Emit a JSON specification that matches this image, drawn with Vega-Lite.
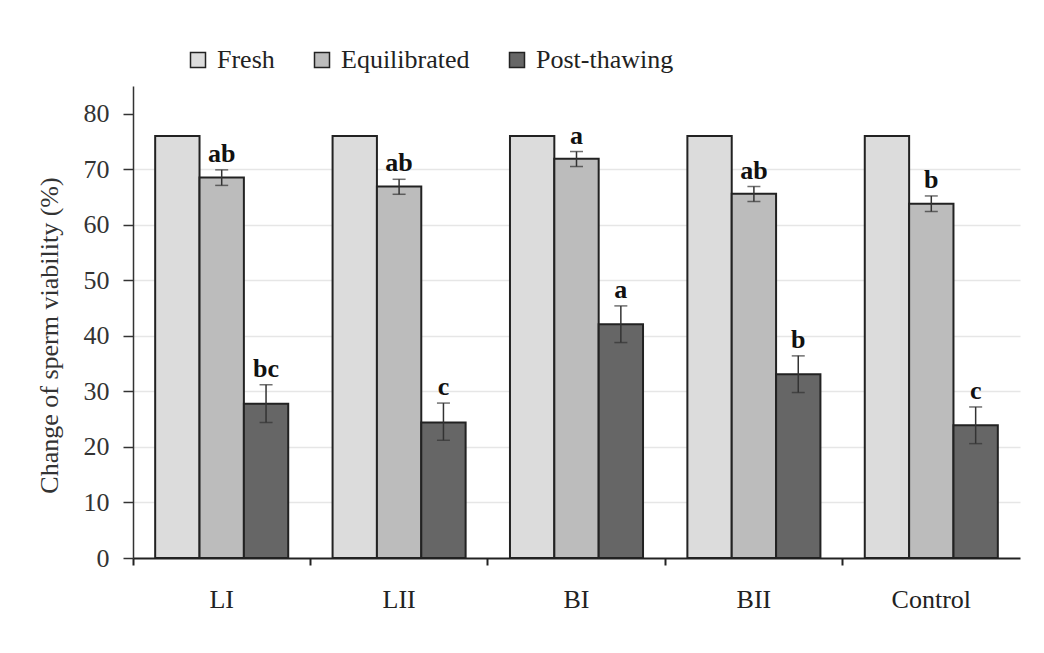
{
  "$schema": "https://vega.github.io/schema/vega-lite/v6.json",
  "width": 887,
  "height": 472,
  "autosize": {"type": "none"},
  "padding": {"left": 133, "top": 86, "right": 24, "bottom": 95},
  "background": "white",
  "config": {"font": "Liberation Serif", "view": {"stroke": null}},
  "data": {
    "values": [
      {"group": "LI", "stage": "Fresh", "value": 76},
      {"group": "LI", "stage": "Equilibrated", "value": 68.5, "lo": 67.1, "hi": 69.9, "label": "ab"},
      {"group": "LI", "stage": "Post-thawing", "value": 27.8, "lo": 24.4, "hi": 31.2, "label": "bc"},
      {"group": "LII", "stage": "Fresh", "value": 76},
      {"group": "LII", "stage": "Equilibrated", "value": 66.9, "lo": 65.5, "hi": 68.2, "label": "ab"},
      {"group": "LII", "stage": "Post-thawing", "value": 24.4, "lo": 21.2, "hi": 27.9, "label": "c"},
      {"group": "BI", "stage": "Fresh", "value": 76},
      {"group": "BI", "stage": "Equilibrated", "value": 71.9, "lo": 70.5, "hi": 73.2, "label": "a"},
      {"group": "BI", "stage": "Post-thawing", "value": 42.1, "lo": 38.8, "hi": 45.4, "label": "a"},
      {"group": "BII", "stage": "Fresh", "value": 76},
      {"group": "BII", "stage": "Equilibrated", "value": 65.6, "lo": 64.2, "hi": 66.9, "label": "ab"},
      {"group": "BII", "stage": "Post-thawing", "value": 33.1, "lo": 29.8, "hi": 36.4, "label": "b"},
      {"group": "Control", "stage": "Fresh", "value": 76},
      {"group": "Control", "stage": "Equilibrated", "value": 63.8, "lo": 62.4, "hi": 65.2, "label": "b"},
      {"group": "Control", "stage": "Post-thawing", "value": 23.9, "lo": 20.6, "hi": 27.2, "label": "c"}
    ]
  },
  "encoding": {
    "x": {
      "field": "group",
      "type": "nominal",
      "sort": ["LI", "LII", "BI", "BII", "Control"],
      "scale": {"paddingInner": 0, "paddingOuter": 0},
      "axis": {
        "title": null,
        "labelAngle": 0,
        "labelFontSize": 26,
        "labelColor": "#222",
        "labelPadding": 21,
        "tickSize": 7,
        "tickWidth": 2,
        "tickColor": "#222",
        "bandPosition": 0,
        "domainColor": "#222",
        "domainWidth": 2,
        "grid": false
      }
    },
    "xOffset": {
      "field": "stage",
      "sort": ["Fresh", "Equilibrated", "Post-thawing"],
      "scale": {"paddingInner": 0, "paddingOuter": 0.5}
    }
  },
  "layer": [
    {
      "mark": {"type": "bar", "stroke": "#222", "strokeWidth": 2},
      "encoding": {
        "y": {
          "field": "value",
          "type": "quantitative",
          "scale": {"domain": [0, 85], "nice": false},
          "axis": {
            "values": [0, 10, 20, 30, 40, 50, 60, 70, 80],
            "title": "Change of sperm viability (%)",
            "titleFontSize": 26,
            "titleFontWeight": "normal",
            "titleColor": "#333",
            "titleAngle": -90,
            "titleAlign": "center",
            "titleBaseline": "alphabetic",
            "titleX": -76,
            "titleY": 249,
            "labelFontSize": 26,
            "labelColor": "#333",
            "labelPadding": 14,
            "tickSize": 10,
            "tickColor": "#333",
            "tickWidth": 1.5,
            "domainColor": "#333",
            "domainWidth": 1.5,
            "grid": true,
            "gridColor": "#e6e6e6",
            "gridWidth": 1.5,
            "gridOpacity": {"condition": {"test": "datum.value == 80 || datum.value == 0", "value": 0}, "value": 1}
          }
        },
        "color": {
          "field": "stage",
          "type": "nominal",
          "scale": {"domain": ["Fresh", "Equilibrated", "Post-thawing"], "range": ["#dcdcdc", "#bcbcbc", "#666666"]},
          "legend": {
            "title": null,
            "orient": "none",
            "direction": "horizontal",
            "legendX": 52,
            "legendY": -39,
            "padding": 0,
            "labelFontSize": 26,
            "labelColor": "#222",
            "labelOffset": 6,
            "columnPadding": 34,
            "symbolType": "square",
            "symbolSize": 225,
            "symbolStrokeColor": "#222",
            "symbolStrokeWidth": 1.5,
            "symbolOpacity": 1
          }
        }
      }
    },
    {
      "transform": [{"filter": "isValid(datum.hi)"}],
      "mark": {"type": "rule", "color": "#333", "strokeWidth": 1.5},
      "encoding": {
        "y": {"field": "lo", "type": "quantitative"},
        "y2": {"field": "hi"}
      }
    },
    {
      "transform": [{"filter": "isValid(datum.hi)"}],
      "mark": {"type": "tick", "color": "#333", "thickness": 1.5, "size": 13, "orient": "horizontal"},
      "encoding": {"y": {"field": "hi", "type": "quantitative"}}
    },
    {
      "transform": [{"filter": "isValid(datum.lo)"}],
      "mark": {"type": "tick", "color": "#333", "thickness": 1.5, "size": 13, "orient": "horizontal"},
      "encoding": {"y": {"field": "lo", "type": "quantitative"}}
    },
    {
      "transform": [{"filter": "isValid(datum.label)"}],
      "mark": {"type": "text", "fontSize": 26, "fontWeight": "bold", "color": "#111", "baseline": "alphabetic", "dy": -8},
      "encoding": {
        "y": {"field": "hi", "type": "quantitative"},
        "text": {"field": "label"}
      }
    }
  ]
}
